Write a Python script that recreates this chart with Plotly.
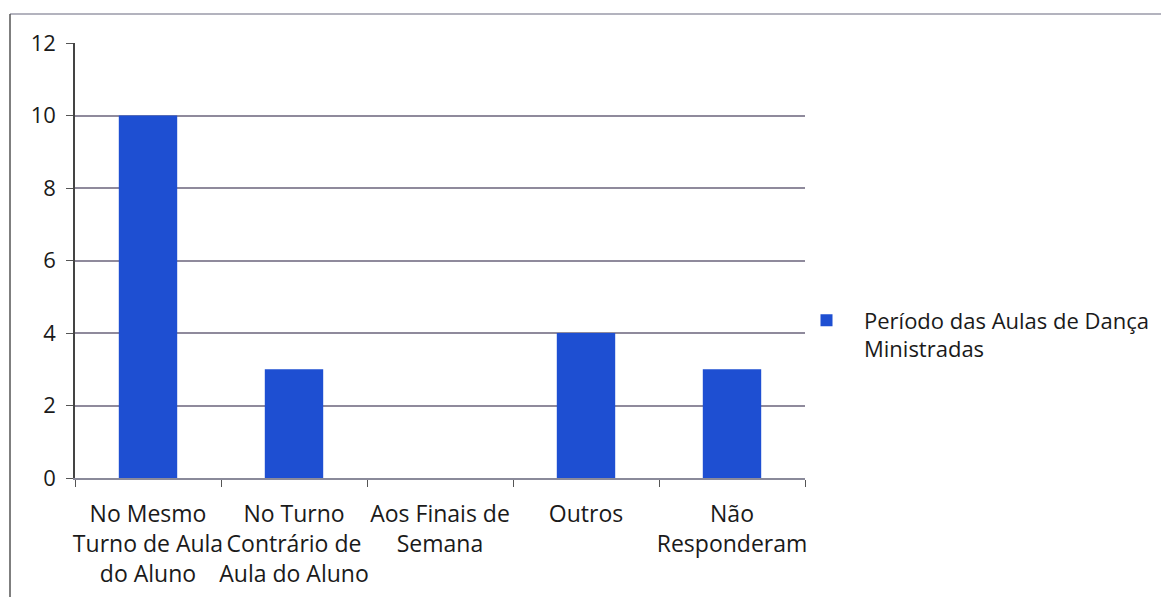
import plotly.graph_objects as go

categories = [
    "No Mesmo<br>Turno de Aula<br>do Aluno",
    "No Turno<br>Contrário de<br>Aula do Aluno",
    "Aos Finais de<br>Semana",
    "Outros",
    "Não<br>Responderam",
]
values = [10, 3, 0, 4, 3]
series_name = "Período das Aulas de Dança<br>Ministradas"
y_ticks = [0, 2, 4, 6, 8, 10, 12]

OFF = 8  # page body margin
W, H = 1169, 597
L, T = 75 - OFF, 43 - OFF
pw, ph = 730, 435
R, B = W - L - pw, H - T - ph

def px_x(x):
    return (x - OFF - L) / pw

def px_y(y):
    return (T + ph - (y - OFF)) / ph

font = dict(family="Open Sans, Liberation Sans, sans-serif", size=22, color="#1a1a1a")
xfont = dict(family="Open Sans, Liberation Sans, sans-serif", size=23, color="#1a1a1a")

fig = go.Figure()
fig.add_trace(go.Bar(
    x=categories, y=values, name=series_name,
    marker=dict(color="#1e4fd2", line=dict(width=0)),
    showlegend=True,
))

fig.update_layout(
    width=W, height=H,
    margin=dict(l=L, r=R, t=T, b=B),
    paper_bgcolor="white", plot_bgcolor="white",
    font=font,
    bargap=0.6,
    showlegend=True,
    legend=dict(x=px_x(789), y=px_y(335), xanchor="left", yanchor="middle",
                font=dict(size=22, color="#1a1a1a"), bgcolor="rgba(0,0,0,0)",
                itemwidth=65, valign="top"),
    xaxis=dict(
        type="category", tickson="boundaries", ticks="outside", ticklen=7,
        tickcolor="#555", showline=True, linecolor="#8a8a9a", linewidth=1.5,
        showgrid=False, tickangle=0, tickfont=xfont, automargin=False,
        ticklabelstandoff=15,
    ),
    yaxis=dict(
        range=[0, 12], tickvals=y_ticks, ticks="outside", ticklen=7, tickcolor="#555",
        showline=True, linecolor="#444", linewidth=1.5,
        showgrid=True, gridcolor="#8f8a9c", gridwidth=1.5,
        tickfont=font, zeroline=False, automargin=False,
        ticklabelstandoff=6,
    ),
    shapes=[
        dict(type="line", xref="paper", yref="paper", x0=px_x(10), x1=px_x(1180),
             y0=px_y(14), y1=px_y(14), line=dict(color="#9a9aa8", width=1.5)),
        dict(type="line", xref="paper", yref="paper", x0=px_x(10), x1=px_x(10),
             y0=px_y(14), y1=px_y(610), line=dict(color="#555", width=1.5)),
    ],
)

fig.write_html("out.html")
